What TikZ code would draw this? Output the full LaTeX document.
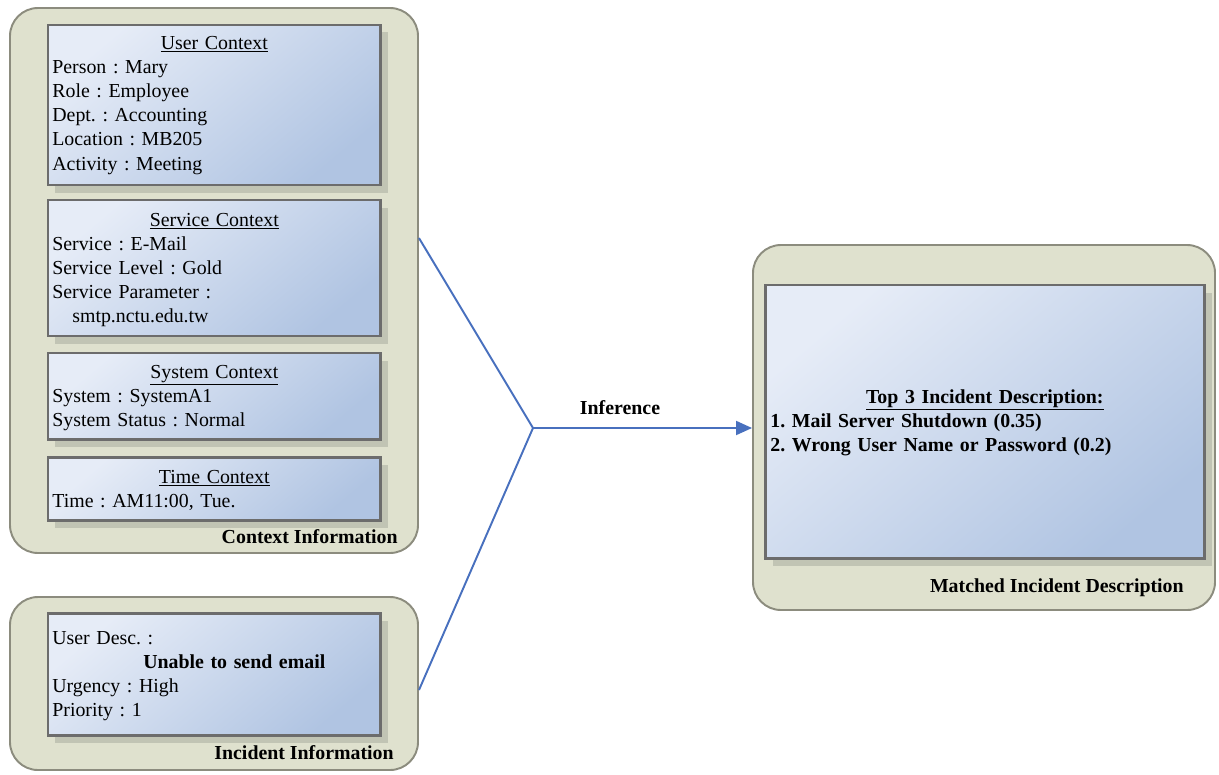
\documentclass[tikz,border=0pt]{standalone}
\usepackage{fontspec}
\setmainfont{Liberation Serif}
\frenchspacing
\usetikzlibrary{fit,shadows,arrows.meta}

\definecolor{contfill}{RGB}{223,225,206}
\definecolor{contline}{RGB}{140,140,126}
\definecolor{boxline}{RGB}{108,108,108}
\definecolor{boxlight}{RGB}{230,236,247}
\definecolor{boxdark}{RGB}{176,196,226}
\definecolor{shadowcol}{RGB}{190,193,178}
\definecolor{flowblue}{RGB}{72,112,190}

\tikzset{
  cont/.style={draw=contline, line width=1.1pt, fill=contfill,
    rounded corners=0.56cm, inner sep=0pt},
  inbox/.style={draw=boxline, line width=1.7pt, inner sep=0pt,
    top color=boxlight, bottom color=boxdark, shading angle=40,
    drop shadow={shadow xshift=0.15cm, shadow yshift=-0.15cm,
      fill=shadowcol, opacity=0.9}},
  body/.style={anchor=base west, inner sep=0pt, align=left,
    font=\fontsize{11.3}{13.8}\selectfont},
  tag/.style={anchor=east, inner sep=0pt,
    font=\fontsize{11.3}{13.8}\selectfont\bfseries},
  flow/.style={draw=flowblue, line width=1.1pt},
}

\begin{document}
\begin{tikzpicture}[x=0.02cm, y=-0.02cm]
\useasboundingbox (0,0) rectangle (1219,774);

% containers
\node[cont, fit={(10,8) (418,553)}] (ctx) {};
\node[cont, fit={(10,597) (418,770)}] (inc) {};
\node[cont, fit={(753,245) (1215,610)}] (match) {};

% context boxes
\node[inbox, fit={(48,25) (380,185)}] (user) {};
\node[inbox, fit={(48,200) (380,336)}] (service) {};
\node[inbox, fit={(48,353) (380,439)}] (system) {};
\node[inbox, fit={(48,457) (380,520)}] (time) {};
\node[inbox, fit={(48,613) (380,735)}] (incbox) {};
\node[inbox, fit={(765,285) (1204,558)}] (result) {};

% box contents
\node[body, text width=6.48cm] (usertxt) at (52,49)
  {\makebox[\linewidth]{\underline{User Context}}\\
   Person : Mary\\ Role : Employee\\ Dept. : Accounting\\
   Location : MB205\\ Activity : Meeting};
\node[body, text width=6.48cm] (servicetxt) at (52,226)
  {\makebox[\linewidth]{\underline{Service Context}}\\
   Service : E-Mail\\ Service Level : Gold\\ Service Parameter :\\
   \hspace*{0.4cm}smtp.nctu.edu.tw};
\node[body, text width=6.48cm] (systemtxt) at (52,378)
  {\makebox[\linewidth]{\underline{System Context}}\\
   System : SystemA1\\ System Status : Normal};
\node[body, text width=6.48cm] (timetxt) at (52,483)
  {\makebox[\linewidth]{\underline{Time Context}}\\
   Time : AM11:00, Tue.};
\node[body, text width=6.48cm] (inctxt) at (52,644)
  {User Desc. :\\
   \hspace*{1.82cm}\textbf{Unable to send email}\\
   Urgency : High\\ Priority : 1};
\node[body, text width=8.58cm, font=\fontsize{11.3}{13.8}\selectfont\bfseries]
  (resulttxt) at (770,403)
  {\makebox[\linewidth]{\underline{Top 3 Incident Description:}}\\
   1. Mail Server Shutdown (0.35)\\
   2. Wrong User Name or Password (0.2)};

% container captions
\node[tag] (ctxlabel) at (398,537) {Context Information};
\node[tag] (inclabel) at (394,753) {Incident Information};
\node[tag] (matchlabel) at (1184,588) {Matched Incident Description};

% inference connectors
\coordinate (join) at (533,428);
\draw[flow] (ctx.east |- 0,238) -- (join);
\draw[flow] (inc.east |- 0,690) -- (join);
\draw[flow, -{Triangle[length=0.32cm, width=0.28cm]}] (join) -- (match.west |- join);
\node[font=\fontsize{11.3}{13.8}\selectfont\bfseries, inner sep=0pt] (inflabel) at (620,408) {Inference};
\end{tikzpicture}
\end{document}
